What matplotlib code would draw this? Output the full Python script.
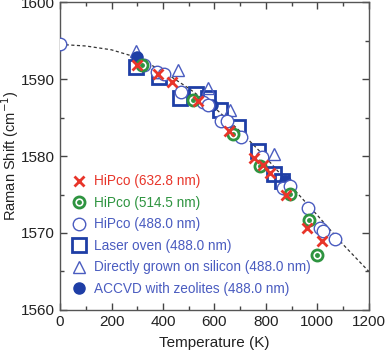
import matplotlib
matplotlib.use("Agg")
import matplotlib.pyplot as plt
from matplotlib.ticker import MultipleLocator
from matplotlib.lines import Line2D

plt.rcParams['font.family'] = ['Liberation Sans', 'DejaVu Sans']

# HiPco 632.8 nm (red crosses)
red_T = [298, 380, 435, 537, 658, 753, 790, 816, 878, 960, 1019]
red_R = [1591.8, 1590.7, 1589.6, 1587.1, 1583.3, 1579.8, 1578.8, 1577.8, 1574.9, 1570.7, 1568.9]
# HiPco 514.5 nm (green dotted circles)
green_T = [317, 518, 673, 777, 893, 967, 997]
green_R = [1591.8, 1587.3, 1582.9, 1578.7, 1575.1, 1571.7, 1567.2]
# HiPco 488.0 nm (open circles)
open_T = [0, 326, 375, 405, 470, 555, 576, 624, 650, 703, 783, 867, 893, 964, 1010, 1020, 1068]
open_R = [1594.5, 1591.8, 1590.9, 1590.7, 1588.3, 1587.0, 1586.6, 1584.6, 1584.6, 1582.5, 1579.9,
          1575.8, 1576.1, 1573.3, 1570.6, 1570.3, 1569.2]
# Laser oven 488.0 nm (squares)
sq_T = [295, 384, 466, 530, 576, 622, 690, 770, 830, 863]
sq_R = [1591.6, 1590.3, 1587.6, 1588.0, 1587.5, 1586.0, 1583.8, 1580.7, 1577.7, 1576.8]
# Directly grown on silicon 488.0 nm (triangles)
tri_T = [295, 460, 574, 662, 831]
tri_R = [1593.6, 1591.2, 1588.9, 1586.0, 1580.3]
# ACCVD with zeolites 488.0 nm (filled circles)
acc_T = [298, 590, 875]
acc_R = [1592.9, 1586.6, 1576.7]
# dashed guide curve
fit_T = [0, 100, 200, 300, 400, 500, 600, 700, 800, 900, 1000, 1100, 1200]
fit_R = [1594.5, 1594.3, 1593.8, 1592.8, 1591.0, 1588.8, 1586.3, 1583.2, 1579.8, 1576.0, 1572.3, 1568.5, 1565.0]

labels = ['HiPco (632.8 nm)', 'HiPco (514.5 nm)', 'HiPco (488.0 nm)', 'Laser oven (488.0 nm)',
          'Directly grown on silicon (488.0 nm)', 'ACCVD with zeolites (488.0 nm)']

RED = '#e8352a'
GREEN = '#2e9440'
BLUE = '#1e3ea6'
LBLUE = '#4a5cc0'

fig = plt.figure(figsize=(3.85, 3.53), dpi=100)
ax = fig.add_axes([0.156, 0.122, 0.802, 0.872])

ax.plot(fit_T, fit_R, linestyle=(0, (2.5, 2)), color='#333333', lw=0.9, zorder=1)

ax.plot(sq_T, sq_R, 's', ms=9.5, mfc='none', mec=BLUE, mew=2.0, ls='none', zorder=2)
ax.plot(tri_T, tri_R, '^', ms=8.5, mfc='none', mec=LBLUE, mew=1.0, ls='none', zorder=3)
ax.plot(acc_T, acc_R, 'o', ms=8, mfc=BLUE, mec=BLUE, ls='none', zorder=3)
ax.plot(open_T, open_R, 'o', ms=9, mfc='white', mec=LBLUE, mew=1.0, ls='none', zorder=3)
ax.plot(green_T, green_R, 'o', ms=8, mfc='white', mec=GREEN, mew=2.0, ls='none', zorder=4)
ax.plot(green_T, green_R, 'o', ms=2.5, mfc=GREEN, mec=GREEN, ls='none', zorder=5)
ax.plot(red_T, red_R, 'x', ms=6.5, mec=RED, mew=2.0, ls='none', zorder=6)

ax.set_xlim(0, 1200)
ax.set_ylim(1560, 1600)
ax.xaxis.set_major_locator(MultipleLocator(200))
ax.xaxis.set_minor_locator(MultipleLocator(100))
ax.yaxis.set_major_locator(MultipleLocator(10))
ax.yaxis.set_minor_locator(MultipleLocator(5))
ax.tick_params(which='both', direction='in', top=True, right=True, colors='#444444',
               labelcolor='#222222', labelsize=11)
ax.tick_params(which='major', length=5, width=1)
ax.tick_params(which='minor', length=3, width=1)
for s in ax.spines.values():
    s.set_color('#555555')
    s.set_linewidth(1)
ax.set_xlabel('Temperature (K)', fontsize=11, color='#222222', labelpad=5)
ax.set_ylabel('Raman Shift (cm$^{-1}$)', fontsize=10.5, color='#222222', labelpad=0)

handles = [
    Line2D([], [], marker='x', ms=6.5, mec=RED, mew=2.0, ls='none'),
    (Line2D([], [], marker='o', ms=8, mfc='white', mec=GREEN, mew=2.0, ls='none'),
     Line2D([], [], marker='o', ms=2.5, mfc=GREEN, mec=GREEN, ls='none')),
    Line2D([], [], marker='o', ms=9, mfc='white', mec=LBLUE, mew=1.0, ls='none'),
    Line2D([], [], marker='s', ms=9.5, mfc='none', mec=BLUE, mew=2.0, ls='none'),
    Line2D([], [], marker='^', ms=8.5, mfc='none', mec=LBLUE, mew=1.0, ls='none'),
    Line2D([], [], marker='o', ms=8, mfc=BLUE, mec=BLUE, ls='none'),
]
leg = ax.legend(handles, labels, loc='upper left', bbox_to_anchor=(0.04, 0.44),
                frameon=False, fontsize=9.8, handlelength=1.0, handletextpad=0.55,
                labelspacing=0.55, borderpad=0, borderaxespad=0,
                labelcolor=[RED, GREEN, LBLUE, LBLUE, LBLUE, LBLUE])

fig.savefig('out.png', dpi=100)
